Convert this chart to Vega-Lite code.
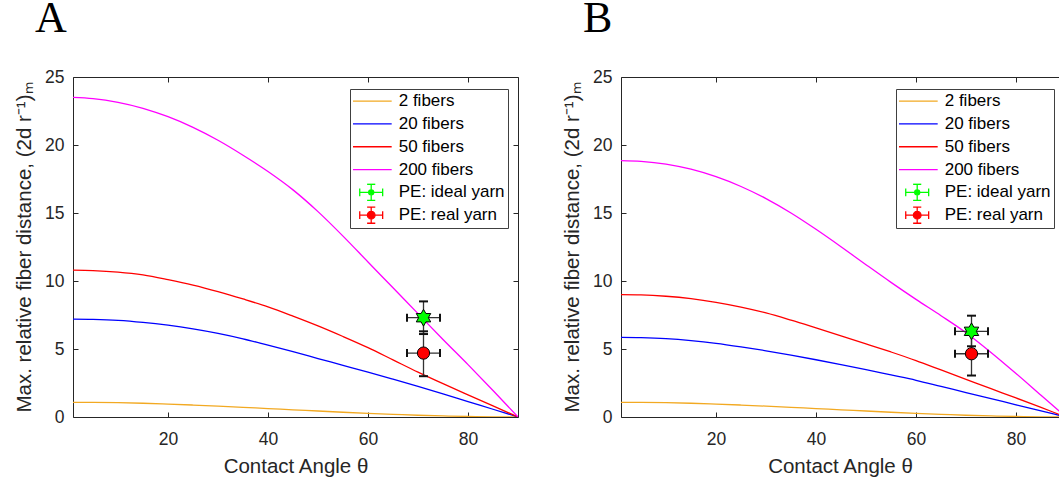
{
  "$schema": "https://vega.github.io/schema/vega-lite/v6.json",
  "background": "white",
  "padding": {"left": 14, "top": -3, "right": 0, "bottom": 0},
  "spacing": 43,
  "config": {
    "font": "Liberation Sans",
    "view": {"stroke": null},
    "axis": {"grid": false, "domainColor": "#262626", "domainWidth": 1, "tickColor": "#262626", "tickWidth": 1, "tickSize": -5, "labelColor": "#262626", "labelFont": "Liberation Sans", "labelFontSize": 17.5, "titleColor": "#262626", "titleFont": "Liberation Sans", "titleFontSize": 20.5, "titleFontWeight": "normal"},
    "title": {"anchor": "start", "frame": "group", "font": "Liberation Serif", "fontSize": 44, "fontWeight": "normal", "color": "#000000", "offset": 27, "dx": -38},
    "legend": {"title": null, "orient": "none", "legendY": 12, "padding": 3, "strokeColor": "#404040", "fillColor": "#ffffff", "symbolType": "stroke", "symbolSize": 289, "symbolStrokeWidth": 1.3, "symbolOffset": 8.7, "clipHeight": 18.3, "labelFont": "Liberation Sans", "labelFontSize": 17, "labelColor": "#000000", "labelOffset": 18, "rowPadding": 3.8}
  },
  "datasets": {
    "curvesA": [
      {"t":1,"v":1.08,"s":"2 fibers"},{"t":5,"v":1.07,"s":"2 fibers"},{"t":10,"v":1.05,"s":"2 fibers"},{"t":15,"v":1.01,"s":"2 fibers"},{"t":20,"v":0.95,"s":"2 fibers"},{"t":25,"v":0.88,"s":"2 fibers"},{"t":30,"v":0.8,"s":"2 fibers"},{"t":35,"v":0.71,"s":"2 fibers"},{"t":40,"v":0.62,"s":"2 fibers"},{"t":45,"v":0.53,"s":"2 fibers"},{"t":50,"v":0.44,"s":"2 fibers"},{"t":55,"v":0.35,"s":"2 fibers"},{"t":60,"v":0.27,"s":"2 fibers"},{"t":65,"v":0.2,"s":"2 fibers"},{"t":70,"v":0.13,"s":"2 fibers"},{"t":75,"v":0.08,"s":"2 fibers"},{"t":80,"v":0.04,"s":"2 fibers"},{"t":85,"v":0.01,"s":"2 fibers"},{"t":90,"v":0,"s":"2 fibers"},
      {"t":1,"v":7.2,"s":"20 fibers"},{"t":5,"v":7.18,"s":"20 fibers"},{"t":10,"v":7.11,"s":"20 fibers"},{"t":15,"v":6.96,"s":"20 fibers"},{"t":20,"v":6.75,"s":"20 fibers"},{"t":25,"v":6.48,"s":"20 fibers"},{"t":30,"v":6.15,"s":"20 fibers"},{"t":35,"v":5.75,"s":"20 fibers"},{"t":40,"v":5.28,"s":"20 fibers"},{"t":45,"v":4.8,"s":"20 fibers"},{"t":50,"v":4.3,"s":"20 fibers"},{"t":55,"v":3.8,"s":"20 fibers"},{"t":60,"v":3.3,"s":"20 fibers"},{"t":65,"v":2.78,"s":"20 fibers"},{"t":70,"v":2.25,"s":"20 fibers"},{"t":75,"v":1.7,"s":"20 fibers"},{"t":80,"v":1.13,"s":"20 fibers"},{"t":85,"v":0.57,"s":"20 fibers"},{"t":90,"v":0,"s":"20 fibers"},
      {"t":1,"v":10.8,"s":"50 fibers"},{"t":5,"v":10.77,"s":"50 fibers"},{"t":10,"v":10.66,"s":"50 fibers"},{"t":15,"v":10.45,"s":"50 fibers"},{"t":20,"v":10.1,"s":"50 fibers"},{"t":25,"v":9.7,"s":"50 fibers"},{"t":30,"v":9.22,"s":"50 fibers"},{"t":35,"v":8.68,"s":"50 fibers"},{"t":40,"v":8.1,"s":"50 fibers"},{"t":45,"v":7.42,"s":"50 fibers"},{"t":50,"v":6.7,"s":"50 fibers"},{"t":55,"v":5.92,"s":"50 fibers"},{"t":60,"v":5.1,"s":"50 fibers"},{"t":65,"v":4.2,"s":"50 fibers"},{"t":70,"v":3.3,"s":"50 fibers"},{"t":75,"v":2.45,"s":"50 fibers"},{"t":80,"v":1.63,"s":"50 fibers"},{"t":85,"v":0.82,"s":"50 fibers"},{"t":90,"v":0,"s":"50 fibers"},
      {"t":1,"v":23.5,"s":"200 fibers"},{"t":5,"v":23.41,"s":"200 fibers"},{"t":10,"v":23.14,"s":"200 fibers"},{"t":15,"v":22.7,"s":"200 fibers"},{"t":20,"v":22.08,"s":"200 fibers"},{"t":25,"v":21.3,"s":"200 fibers"},{"t":30,"v":20.35,"s":"200 fibers"},{"t":35,"v":19.25,"s":"200 fibers"},{"t":40,"v":18.05,"s":"200 fibers"},{"t":45,"v":16.7,"s":"200 fibers"},{"t":50,"v":15.1,"s":"200 fibers"},{"t":55,"v":13.3,"s":"200 fibers"},{"t":60,"v":11.4,"s":"200 fibers"},{"t":65,"v":9.5,"s":"200 fibers"},{"t":70,"v":7.6,"s":"200 fibers"},{"t":75,"v":5.7,"s":"200 fibers"},{"t":80,"v":3.85,"s":"200 fibers"},{"t":85,"v":1.95,"s":"200 fibers"},{"t":90,"v":0,"s":"200 fibers"}
    ],
    "curvesB": [
      {"t":1,"v":1.08,"s":"2 fibers"},{"t":5,"v":1.07,"s":"2 fibers"},{"t":10,"v":1.05,"s":"2 fibers"},{"t":15,"v":1.01,"s":"2 fibers"},{"t":20,"v":0.95,"s":"2 fibers"},{"t":25,"v":0.88,"s":"2 fibers"},{"t":30,"v":0.8,"s":"2 fibers"},{"t":35,"v":0.71,"s":"2 fibers"},{"t":40,"v":0.62,"s":"2 fibers"},{"t":45,"v":0.53,"s":"2 fibers"},{"t":50,"v":0.44,"s":"2 fibers"},{"t":55,"v":0.35,"s":"2 fibers"},{"t":60,"v":0.27,"s":"2 fibers"},{"t":65,"v":0.2,"s":"2 fibers"},{"t":70,"v":0.13,"s":"2 fibers"},{"t":75,"v":0.08,"s":"2 fibers"},{"t":80,"v":0.04,"s":"2 fibers"},{"t":85,"v":0.01,"s":"2 fibers"},{"t":90,"v":0,"s":"2 fibers"},
      {"t":1,"v":5.85,"s":"20 fibers"},{"t":5,"v":5.83,"s":"20 fibers"},{"t":10,"v":5.76,"s":"20 fibers"},{"t":15,"v":5.62,"s":"20 fibers"},{"t":20,"v":5.42,"s":"20 fibers"},{"t":25,"v":5.16,"s":"20 fibers"},{"t":30,"v":4.87,"s":"20 fibers"},{"t":35,"v":4.55,"s":"20 fibers"},{"t":40,"v":4.21,"s":"20 fibers"},{"t":45,"v":3.85,"s":"20 fibers"},{"t":50,"v":3.48,"s":"20 fibers"},{"t":55,"v":3.09,"s":"20 fibers"},{"t":60,"v":2.7,"s":"20 fibers"},{"t":65,"v":2.25,"s":"20 fibers"},{"t":70,"v":1.8,"s":"20 fibers"},{"t":75,"v":1.35,"s":"20 fibers"},{"t":80,"v":0.9,"s":"20 fibers"},{"t":85,"v":0.45,"s":"20 fibers"},{"t":90,"v":0,"s":"20 fibers"},
      {"t":1,"v":9.0,"s":"50 fibers"},{"t":5,"v":8.98,"s":"50 fibers"},{"t":10,"v":8.88,"s":"50 fibers"},{"t":15,"v":8.7,"s":"50 fibers"},{"t":20,"v":8.43,"s":"50 fibers"},{"t":25,"v":8.08,"s":"50 fibers"},{"t":30,"v":7.65,"s":"50 fibers"},{"t":35,"v":7.12,"s":"50 fibers"},{"t":40,"v":6.55,"s":"50 fibers"},{"t":45,"v":5.97,"s":"50 fibers"},{"t":50,"v":5.38,"s":"50 fibers"},{"t":55,"v":4.78,"s":"50 fibers"},{"t":60,"v":4.15,"s":"50 fibers"},{"t":65,"v":3.46,"s":"50 fibers"},{"t":70,"v":2.77,"s":"50 fibers"},{"t":75,"v":2.08,"s":"50 fibers"},{"t":80,"v":1.4,"s":"50 fibers"},{"t":85,"v":0.7,"s":"50 fibers"},{"t":90,"v":0,"s":"50 fibers"},
      {"t":1,"v":18.85,"s":"200 fibers"},{"t":5,"v":18.8,"s":"200 fibers"},{"t":10,"v":18.6,"s":"200 fibers"},{"t":15,"v":18.22,"s":"200 fibers"},{"t":20,"v":17.67,"s":"200 fibers"},{"t":25,"v":16.95,"s":"200 fibers"},{"t":30,"v":16.06,"s":"200 fibers"},{"t":35,"v":15.0,"s":"200 fibers"},{"t":40,"v":13.8,"s":"200 fibers"},{"t":45,"v":12.52,"s":"200 fibers"},{"t":50,"v":11.2,"s":"200 fibers"},{"t":55,"v":9.9,"s":"200 fibers"},{"t":60,"v":8.65,"s":"200 fibers"},{"t":65,"v":7.45,"s":"200 fibers"},{"t":70,"v":6.2,"s":"200 fibers"},{"t":75,"v":4.75,"s":"200 fibers"},{"t":80,"v":3.2,"s":"200 fibers"},{"t":85,"v":1.6,"s":"200 fibers"},{"t":90,"v":0,"s":"200 fibers"}
    ],
    "ptsA": [
      {"s":"PE: real yarn","x":71.1,"xlo":67.8,"xhi":74.4,"y":4.7,"ylo":3.0,"yhi":6.3},
      {"s":"PE: ideal yarn","x":71.1,"xlo":67.8,"xhi":74.4,"y":7.3,"ylo":6.1,"yhi":8.5}
    ],
    "ptsB": [
      {"s":"PE: real yarn","x":71.1,"xlo":67.8,"xhi":74.4,"y":4.65,"ylo":3.05,"yhi":6.25},
      {"s":"PE: ideal yarn","x":71.1,"xlo":67.8,"xhi":74.4,"y":6.3,"ylo":5.2,"yhi":7.45}
    ]
  },
  "resolve": {"scale": {"color": "independent"}, "legend": {"color": "independent"}},
  "hconcat": [
    {
      "width": 445, "height": 340,
      "title": {"text": "A"},
      "resolve": {"axis": {"x": "independent", "y": "independent"}},
      "layer": [
        {
          "data": {"name": "curvesA"},
          "mark": {"type": "line", "strokeWidth": 1.3, "interpolate": "monotone", "clip": true},
          "encoding": {
            "x": {"field": "t", "type": "quantitative", "scale": {"domain": [1, 90], "nice": false, "zero": false}, "axis": {"orient": "bottom", "values": [20, 40, 60, 80], "title": "Contact Angle θ", "labelPadding": 18, "titlePadding": 9}},
            "y": {"field": "v", "type": "quantitative", "scale": {"domain": [0, 25], "nice": false}, "axis": {"orient": "left", "values": [0, 5, 10, 15, 20, 25], "title": "Max. relative fiber distance, (2d r⁻¹)ₘ", "labelPadding": 14, "titlePadding": 10}},
            "color": {"field": "s", "type": "nominal",
              "scale": {"domain": ["2 fibers", "20 fibers", "50 fibers", "200 fibers", "PE: ideal yarn", "PE: real yarn"], "range": ["#F2A922", "#0000FF", "#FF0000", "#FF00FF", "#00FF00", "#FF0000"]},
              "legend": {
                "legendX": 277,
                "encode": {"symbols": {"update": {
                  "shape": {"signal": "datum.value == 'PE: ideal yarn' ? 'M-1.35,0L-0.3,0M0.3,0L1.35,0M0,-0.95L0,-0.3M0,0.3L0,0.95M-1.35,-0.45L-1.35,0.45M1.35,-0.45L1.35,0.45M-0.48,-0.95L0.48,-0.95M-0.48,0.95L0.48,0.95M0.3,0A0.3,0.3 0 1,1 -0.3,0A0.3,0.3 0 1,1 0.3,0Z' : datum.value == 'PE: real yarn' ? 'M-1.35,0L-0.45,0M0.45,0L1.35,0M0,-0.95L0,-0.45M0,0.45L0,0.95M-1.35,-0.45L-1.35,0.45M1.35,-0.45L1.35,0.45M-0.48,-0.95L0.48,-0.95M-0.48,0.95L0.48,0.95M0.45,0A0.45,0.45 0 1,1 -0.45,0A0.45,0.45 0 1,1 0.45,0Z' : 'M-2.41,0L2.41,0'"},
                  "size": {"value": 289},
                  "fill": {"signal": "datum.value == 'PE: ideal yarn' ? '#00FF00' : datum.value == 'PE: real yarn' ? '#FF0000' : 'transparent'"},
                  "stroke": {"signal": "datum.value == '2 fibers' ? '#F2A922' : datum.value == '20 fibers' ? '#0000FF' : datum.value == '50 fibers' ? '#FF0000' : datum.value == '200 fibers' ? '#FF00FF' : '#000000'"},
                  "strokeWidth": {"value": 1.3},
                  "opacity": {"value": 1}
                }}}
              }
            }
          }
        },
        {
          "data": {"name": "ptsA"},
          "mark": {"type": "rule", "color": "#333333", "strokeWidth": 1.3},
          "encoding": {
            "x": {"field": "x", "type": "quantitative", "axis": {"orient": "top", "values": [20, 40, 60, 80], "labels": false, "title": null}},
            "y": {"field": "ylo", "type": "quantitative", "axis": {"orient": "right", "values": [0, 5, 10, 15, 20, 25], "labels": false, "title": null}},
            "y2": {"field": "yhi"}
          }
        },
        {
          "data": {"name": "ptsA"},
          "mark": {"type": "rule", "color": "#333333", "strokeWidth": 1.3},
          "encoding": {
            "x": {"field": "xlo", "type": "quantitative", "axis": null},
            "x2": {"field": "xhi"},
            "y": {"field": "y", "type": "quantitative", "axis": null}
          }
        },
        {
          "data": {"name": "ptsA"},
          "mark": {"type": "tick", "orient": "horizontal", "size": 9, "thickness": 2, "color": "#111111", "opacity": 1},
          "encoding": {"x": {"field": "x", "type": "quantitative", "axis": null}, "y": {"field": "ylo", "type": "quantitative", "axis": null}}
        },
        {
          "data": {"name": "ptsA"},
          "mark": {"type": "tick", "orient": "horizontal", "size": 9, "thickness": 2, "color": "#111111", "opacity": 1},
          "encoding": {"x": {"field": "x", "type": "quantitative", "axis": null}, "y": {"field": "yhi", "type": "quantitative", "axis": null}}
        },
        {
          "data": {"name": "ptsA"},
          "mark": {"type": "tick", "orient": "vertical", "size": 8, "thickness": 2, "color": "#111111", "opacity": 1},
          "encoding": {"x": {"field": "xlo", "type": "quantitative", "axis": null}, "y": {"field": "y", "type": "quantitative", "axis": null}}
        },
        {
          "data": {"name": "ptsA"},
          "mark": {"type": "tick", "orient": "vertical", "size": 8, "thickness": 2, "color": "#111111", "opacity": 1},
          "encoding": {"x": {"field": "xhi", "type": "quantitative", "axis": null}, "y": {"field": "y", "type": "quantitative", "axis": null}}
        },
        {
          "data": {"name": "ptsA"},
          "transform": [{"filter": "datum.s == 'PE: real yarn'"}],
          "mark": {"type": "point", "shape": "circle", "size": 150, "filled": true, "fill": "#FF0000", "stroke": "#000000", "strokeWidth": 1, "opacity": 1},
          "encoding": {"x": {"field": "x", "type": "quantitative", "axis": null}, "y": {"field": "y", "type": "quantitative", "axis": null}}
        },
        {
          "data": {"name": "ptsA"},
          "transform": [{"filter": "datum.s == 'PE: ideal yarn'"}],
          "mark": {"type": "point", "shape": "M0,-1L0.289,-0.5L0.866,-0.5L0.577,0L0.866,0.5L0.289,0.5L0,1L-0.289,0.5L-0.866,0.5L-0.577,0L-0.866,-0.5L-0.289,-0.5Z", "size": 280, "filled": true, "fill": "#00FF00", "stroke": "#000000", "strokeWidth": 1, "opacity": 1},
          "encoding": {"x": {"field": "x", "type": "quantitative", "axis": null}, "y": {"field": "y", "type": "quantitative", "axis": null}}
        }
      ]
    },
    {
      "width": 438, "height": 340,
      "title": {"text": "B"},
      "resolve": {"axis": {"x": "independent", "y": "independent"}},
      "layer": [
        {
          "data": {"name": "curvesB"},
          "mark": {"type": "line", "strokeWidth": 1.3, "interpolate": "monotone", "clip": true},
          "encoding": {
            "x": {"field": "t", "type": "quantitative", "scale": {"domain": [1, 88.6], "nice": false, "zero": false}, "axis": {"orient": "bottom", "values": [20, 40, 60, 80], "title": "Contact Angle θ", "labelPadding": 18, "titlePadding": 9}},
            "y": {"field": "v", "type": "quantitative", "scale": {"domain": [0, 25], "nice": false}, "axis": {"orient": "left", "values": [0, 5, 10, 15, 20, 25], "title": "Max. relative fiber distance, (2d r⁻¹)ₘ", "labelPadding": 14, "titlePadding": 10}},
            "color": {"field": "s", "type": "nominal",
              "scale": {"domain": ["2 fibers", "20 fibers", "50 fibers", "200 fibers", "PE: ideal yarn", "PE: real yarn"], "range": ["#F2A922", "#0000FF", "#FF0000", "#FF00FF", "#00FF00", "#FF0000"]},
              "legend": {
                "legendX": 275,
                "encode": {"symbols": {"update": {
                  "shape": {"signal": "datum.value == 'PE: ideal yarn' ? 'M-1.35,0L-0.3,0M0.3,0L1.35,0M0,-0.95L0,-0.3M0,0.3L0,0.95M-1.35,-0.45L-1.35,0.45M1.35,-0.45L1.35,0.45M-0.48,-0.95L0.48,-0.95M-0.48,0.95L0.48,0.95M0.3,0A0.3,0.3 0 1,1 -0.3,0A0.3,0.3 0 1,1 0.3,0Z' : datum.value == 'PE: real yarn' ? 'M-1.35,0L-0.45,0M0.45,0L1.35,0M0,-0.95L0,-0.45M0,0.45L0,0.95M-1.35,-0.45L-1.35,0.45M1.35,-0.45L1.35,0.45M-0.48,-0.95L0.48,-0.95M-0.48,0.95L0.48,0.95M0.45,0A0.45,0.45 0 1,1 -0.45,0A0.45,0.45 0 1,1 0.45,0Z' : 'M-2.41,0L2.41,0'"},
                  "size": {"value": 289},
                  "fill": {"signal": "datum.value == 'PE: ideal yarn' ? '#00FF00' : datum.value == 'PE: real yarn' ? '#FF0000' : 'transparent'"},
                  "stroke": {"signal": "datum.value == '2 fibers' ? '#F2A922' : datum.value == '20 fibers' ? '#0000FF' : datum.value == '50 fibers' ? '#FF0000' : datum.value == '200 fibers' ? '#FF00FF' : '#000000'"},
                  "strokeWidth": {"value": 1.3},
                  "opacity": {"value": 1}
                }}}
              }
            }
          }
        },
        {
          "data": {"name": "ptsB"},
          "mark": {"type": "rule", "color": "#333333", "strokeWidth": 1.3},
          "encoding": {
            "x": {"field": "x", "type": "quantitative", "axis": {"orient": "top", "values": [20, 40, 60, 80], "labels": false, "title": null}},
            "y": {"field": "ylo", "type": "quantitative", "axis": null},
            "y2": {"field": "yhi"}
          }
        },
        {
          "data": {"name": "ptsB"},
          "mark": {"type": "rule", "color": "#333333", "strokeWidth": 1.3},
          "encoding": {
            "x": {"field": "xlo", "type": "quantitative", "axis": null},
            "x2": {"field": "xhi"},
            "y": {"field": "y", "type": "quantitative", "axis": null}
          }
        },
        {
          "data": {"name": "ptsB"},
          "mark": {"type": "tick", "orient": "horizontal", "size": 9, "thickness": 2, "color": "#111111", "opacity": 1},
          "encoding": {"x": {"field": "x", "type": "quantitative", "axis": null}, "y": {"field": "ylo", "type": "quantitative", "axis": null}}
        },
        {
          "data": {"name": "ptsB"},
          "mark": {"type": "tick", "orient": "horizontal", "size": 9, "thickness": 2, "color": "#111111", "opacity": 1},
          "encoding": {"x": {"field": "x", "type": "quantitative", "axis": null}, "y": {"field": "yhi", "type": "quantitative", "axis": null}}
        },
        {
          "data": {"name": "ptsB"},
          "mark": {"type": "tick", "orient": "vertical", "size": 8, "thickness": 2, "color": "#111111", "opacity": 1},
          "encoding": {"x": {"field": "xlo", "type": "quantitative", "axis": null}, "y": {"field": "y", "type": "quantitative", "axis": null}}
        },
        {
          "data": {"name": "ptsB"},
          "mark": {"type": "tick", "orient": "vertical", "size": 8, "thickness": 2, "color": "#111111", "opacity": 1},
          "encoding": {"x": {"field": "xhi", "type": "quantitative", "axis": null}, "y": {"field": "y", "type": "quantitative", "axis": null}}
        },
        {
          "data": {"name": "ptsB"},
          "transform": [{"filter": "datum.s == 'PE: real yarn'"}],
          "mark": {"type": "point", "shape": "circle", "size": 150, "filled": true, "fill": "#FF0000", "stroke": "#000000", "strokeWidth": 1, "opacity": 1},
          "encoding": {"x": {"field": "x", "type": "quantitative", "axis": null}, "y": {"field": "y", "type": "quantitative", "axis": null}}
        },
        {
          "data": {"name": "ptsB"},
          "transform": [{"filter": "datum.s == 'PE: ideal yarn'"}],
          "mark": {"type": "point", "shape": "M0,-1L0.289,-0.5L0.866,-0.5L0.577,0L0.866,0.5L0.289,0.5L0,1L-0.289,0.5L-0.866,0.5L-0.577,0L-0.866,-0.5L-0.289,-0.5Z", "size": 280, "filled": true, "fill": "#00FF00", "stroke": "#000000", "strokeWidth": 1, "opacity": 1},
          "encoding": {"x": {"field": "x", "type": "quantitative", "axis": null}, "y": {"field": "y", "type": "quantitative", "axis": null}}
        }
      ]
    }
  ]
}
